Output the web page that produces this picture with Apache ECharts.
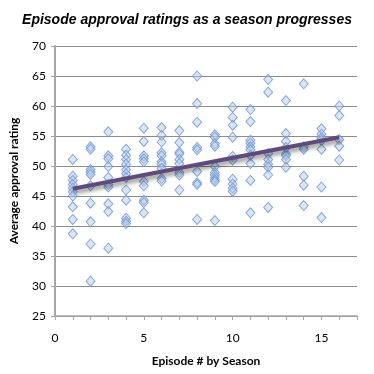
<!DOCTYPE html>
<html>
<head>
<meta charset="utf-8">
<script src="https://cdn.jsdelivr.net/npm/echarts@6/dist/echarts.min.js"></script>
<style>html,body{margin:0;padding:0;background:#fff}#c{width:374px;height:374px}</style>
</head>
<body>
<div id="c"></div>
<script>
// Episode number within season -> approval ratings of episodes
const episodes = [1,2,3,4,5,6,7,8,9,10,11,12,13,14,15,16];
const ratings = [
  [51.1, 48.3, 47.6, 46.9, 46.3, 45.7, 45.0, 43.2, 41.1, 38.7],
  [53.2, 52.8, 49.4, 49.0, 48.6, 46.7, 43.8, 40.7, 37.0, 30.8],
  [55.7, 51.7, 51.2, 49.9, 48.1, 46.9, 46.5, 43.7, 42.4, 36.3],
  [52.8, 51.8, 51.1, 50.3, 49.4, 48.7, 48.1, 46.0, 44.3, 41.3, 40.8, 40.4],
  [56.3, 54.1, 51.7, 51.2, 50.7, 47.4, 46.7, 44.3, 43.9, 42.2],
  [56.4, 55.1, 54.0, 52.2, 51.7, 50.7, 50.3, 49.6, 47.9, 47.5],
  [55.9, 53.9, 52.3, 52.0, 51.1, 50.4, 48.9, 48.5, 46.0],
  [65.0, 60.4, 57.3, 53.1, 52.7, 49.1, 47.2, 46.9, 41.1],
  [55.2, 54.8, 53.7, 53.3, 49.9, 48.9, 48.5, 48.1, 47.7, 47.4, 40.9],
  [59.8, 58.1, 56.8, 54.8, 51.6, 51.0, 47.8, 47.0, 46.3, 45.8],
  [59.4, 57.4, 54.3, 53.8, 53.2, 52.7, 51.8, 50.4, 47.6, 42.2],
  [64.4, 62.3, 52.1, 51.1, 50.3, 49.8, 48.5, 43.1],
  [60.9, 55.4, 54.1, 53.1, 52.0, 51.7, 51.1, 49.8],
  [63.7, 53.2, 52.8, 48.3, 46.8, 43.4],
  [56.2, 55.3, 54.7, 54.3, 52.8, 46.5, 41.4],
  [60.0, 58.4, 54.4, 53.3, 51.0]
];
// Linear trend line endpoints
const trendX = [1, 16];
const trendY = [46.2, 54.8];
const xTicks = [0, 5, 10, 15];

const points = [];
episodes.forEach((e, i) => ratings[i].forEach(v => points.push([e, v])));

const chart = echarts.init(document.getElementById('c'), null, {renderer: 'canvas'});
const axisFont = 'Lato, "Open Sans", sans-serif';
chart.setOption({
  animation: false,
  title: {
    text: 'Episode approval ratings as a season progresses',
    left: 'center', top: 8,
    textStyle: {fontFamily: '"Liberation Sans", Arial, sans-serif', fontSize: 14, fontWeight: 'bold', fontStyle: 'italic', color: '#000'}
  },
  grid: {left: 54, right: 17, top: 46, bottom: 58},
  xAxis: {
    type: 'value', min: 0, max: 17, interval: 1,
    name: 'Episode # by Season', nameLocation: 'middle', nameGap: 39,
    nameTextStyle: {fontFamily: axisFont, fontSize: 12, fontWeight: 'bold', color: '#000'},
    axisLine: {lineStyle: {color: '#A6A6A6', width: 1.5}},
    axisTick: {show: true, length: 4, lineStyle: {color: '#A6A6A6'}},
    axisLabel: {margin: 16, fontFamily: axisFont, fontSize: 12, color: '#000',
      formatter: v => xTicks.includes(v) ? String(v) : ''},
    splitLine: {show: false}
  },
  yAxis: {
    type: 'value', min: 25, max: 70, interval: 5,
    name: 'Average approval rating', nameLocation: 'middle', nameGap: 35,
    nameTextStyle: {fontFamily: axisFont, fontSize: 12, fontWeight: 'bold', color: '#000'},
    axisLine: {show: true, lineStyle: {color: '#A6A6A6', width: 2}},
    axisTick: {show: true, length: 4, lineStyle: {color: '#A6A6A6'}},
    axisLabel: {margin: 9, fontFamily: axisFont, fontSize: 12, color: '#000'},
    splitLine: {lineStyle: {color: '#8C8C8C', width: 1}}
  },
  series: [
    {
      type: 'scatter', data: points, symbol: 'diamond', symbolSize: [9, 10],
      itemStyle: {color: 'rgba(180,200,235,0.6)', borderColor: '#6E93CF', borderWidth: 1}
    },
    {
      type: 'line', data: trendX.map((x, i) => [x, trendY[i]]), symbol: 'none',
      lineStyle: {color: '#5F4A7E', width: 4, shadowColor: 'rgba(0,0,0,0.45)', shadowBlur: 4, shadowOffsetX: 2, shadowOffsetY: 3},
      z: 3
    }
  ]
});
</script>
</body>
</html>
